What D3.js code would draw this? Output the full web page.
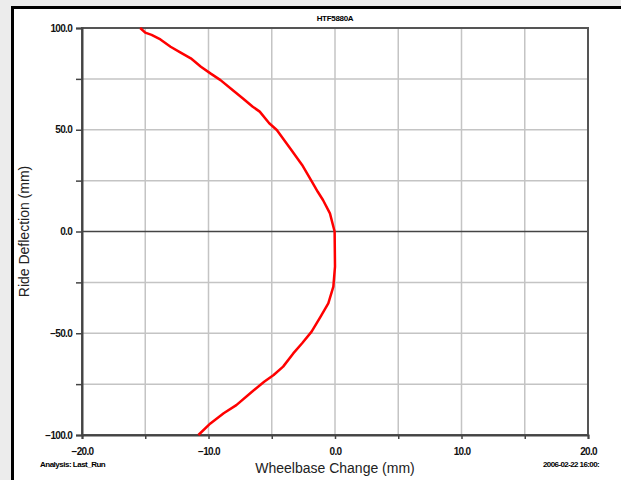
<!DOCTYPE html>
<html>
<head>
<meta charset="utf-8">
<script src="https://cdn.jsdelivr.net/npm/d3@7"></script>
<style>
  body { margin: 0; background: #ececec; overflow: hidden; }
  svg { display: block; }
</style>
</head>
<body>
<div id="chart"></div>
<script>
// wheelbase change (mm), top to bottom
var wheelbase = [-15.4, -15.0, -14.5, -13.8, -13.0, -12.2, -11.4, -10.6, -9.85, -9.05,
  -8.1, -7.3, -6.5, -5.95, -5.2, -4.6, -3.45, -2.6, -1.85, -1.35, -0.95, -0.4,
  -0.03, 0.0, -0.13, -0.53, -1.15, -1.85, -2.6, -3.3, -4.1, -4.85, -5.6, -6.7,
  -7.8, -8.8, -9.85, -10.8];
// ride deflection (mm)
var deflection = [100, 97.7, 96.6, 94.4, 90.8, 87.9, 85.1, 81.0, 77.7, 74.4,
  69.5, 65.5, 61.3, 58.9, 53.2, 49.9, 40.0, 32.7, 24.8, 19.4, 15.5, 8.9,
  0, -17.3, -27.1, -35.3, -41.9, -49.2, -54.9, -59.9, -66.4, -70.5, -73.8, -79.5,
  -85.3, -89.3, -94.3, -100];

var xTicks = [-20, -15, -10, -5, 0, 5, 10, 15, 20];
var yTicks = [-100, -75, -50, -25, 0, 25, 50, 75, 100];
var chartTitle = "HTF5880A";
var xTitle = "Wheelbase Change (mm)";
var yTitle = "Ride Deflection (mm)";
var analysisLabel = "Analysis:  Last_Run";
var dateLabel = "2006-02-22 16:00:";

var W = 621, H = 480;
var margin = {top: 28, left: 82, right: 33, bottom: 45};
var width = W - margin.left - margin.right,
    height = H - margin.top - margin.bottom;

var svg = d3.select("#chart").append("svg")
    .attr("width", W)
    .attr("height", H);

// outer white panel with black frame
svg.append("rect")
    .attr("x", 12.5).attr("y", 7.5)
    .attr("width", W + 20).attr("height", H + 20)
    .attr("fill", "#fff")
    .attr("stroke", "#000")
    .attr("stroke-width", 3);

var g = svg.append("g")
    .attr("transform", "translate(" + margin.left + "," + margin.top + ")");

var x = d3.scaleLinear().domain([-20, 20]).range([0, width]);
var y = d3.scaleLinear().domain([-100, 100]).range([height, 0]);

// gridlines
g.append("g")
    .selectAll("line")
    .data(xTicks.slice(1, -1))
    .enter().append("line")
    .attr("x1", function(d) { return x(d); })
    .attr("x2", function(d) { return x(d); })
    .attr("y1", 0).attr("y2", height)
    .attr("stroke", "#c4c4c4")
    .attr("stroke-width", 1.5);

g.append("g")
    .selectAll("line")
    .data(yTicks.slice(1, -1))
    .enter().append("line")
    .attr("x1", 0).attr("x2", width)
    .attr("y1", function(d) { return y(d); })
    .attr("y2", function(d) { return y(d); })
    .attr("stroke", function(d) { return d == 0 ? "#444" : "#c4c4c4"; })
    .attr("stroke-width", 1.5);

// plot frame
g.append("rect")
    .attr("width", width).attr("height", height)
    .attr("fill", "none")
    .attr("stroke", "#555")
    .attr("stroke-width", 2);

var fmt = d3.format(".1f");

var xAxis = g.append("g")
    .attr("transform", "translate(0," + height + ")")
    .call(d3.axisBottom(x).tickValues(xTicks).tickSize(4).tickPadding(9)
      .tickFormat(function(d) { return d % 10 == 0 ? fmt(d) : ""; }));

var yAxis = g.append("g")
    .call(d3.axisLeft(y).tickValues(yTicks).tickSize(6).tickPadding(4)
      .tickFormat(function(d) { return d % 50 == 0 ? fmt(d) : ""; }));

[xAxis, yAxis].forEach(function(a) {
  a.select(".domain").attr("stroke", "#444").attr("stroke-width", 2);
  a.selectAll(".tick line").attr("stroke", "#444").attr("stroke-width", 1.5);
  a.selectAll(".tick text")
    .attr("fill", "#111")
    .style("font-family", "'Liberation Sans', Arial, sans-serif")
    .style("font-size", "10px")
    .style("font-weight", "bold")
    .style("letter-spacing", "-0.7px");
});

// the curve
var line = d3.line()
    .x(function(d, i) { return x(wheelbase[i]); })
    .y(function(d) { return y(d); });

g.append("path")
    .datum(deflection)
    .attr("d", line)
    .attr("fill", "none")
    .attr("stroke", "#ff0000")
    .attr("stroke-width", 2.5)
    .attr("stroke-linejoin", "round");

// texts
svg.append("text")
    .attr("x", margin.left + x(0))
    .attr("y", 21)
    .attr("text-anchor", "middle")
    .style("font-family", "'Liberation Sans', Arial, sans-serif")
    .style("font-size", "8px")
    .style("font-weight", "bold")
    .style("letter-spacing", "-0.3px")
    .text(chartTitle);

svg.append("text")
    .attr("x", margin.left + x(0))
    .attr("y", 473)
    .attr("text-anchor", "middle")
    .style("font-family", "'Liberation Sans', Arial, sans-serif")
    .style("font-size", "14px")
    .attr("fill", "#222")
    .text(xTitle);

svg.append("text")
    .attr("transform", "translate(29," + (margin.top + y(0)) + ") rotate(-90)")
    .attr("text-anchor", "middle")
    .style("font-family", "'Liberation Sans', Arial, sans-serif")
    .style("font-size", "14px")
    .attr("fill", "#222")
    .text(yTitle);

svg.append("text")
    .attr("x", 40).attr("y", 467)
    .style("font-family", "'Liberation Sans', Arial, sans-serif")
    .style("font-size", "8px")
    .style("font-weight", "bold")
    .style("letter-spacing", "-0.5px")
    .text(analysisLabel);

svg.append("text")
    .attr("x", 543).attr("y", 467)
    .style("font-family", "'Liberation Sans', Arial, sans-serif")
    .style("font-size", "8px")
    .style("font-weight", "bold")
    .style("letter-spacing", "-0.6px")
    .text(dateLabel);
</script>
</body>
</html>
